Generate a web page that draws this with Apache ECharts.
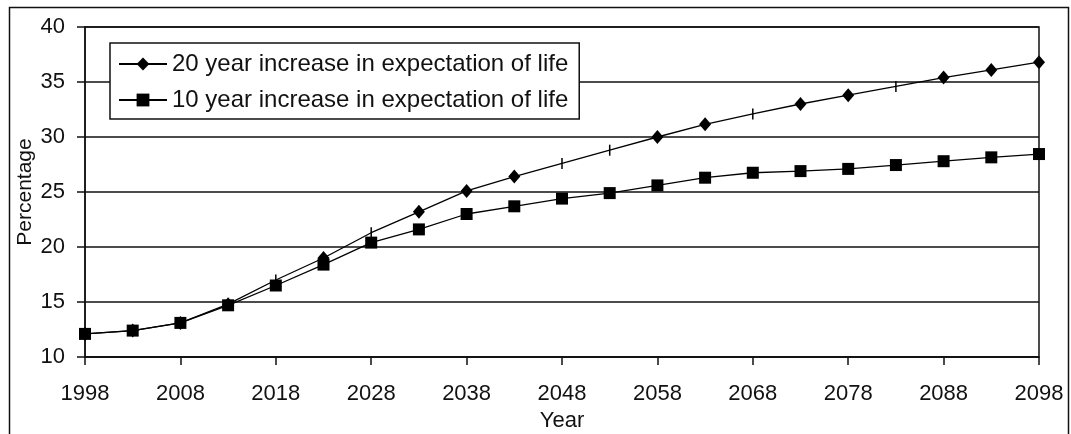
<!DOCTYPE html>
<html>
<head>
<meta charset="utf-8">
<script src="https://cdn.jsdelivr.net/npm/echarts@6/dist/echarts.min.js"></script>
<style>
html,body{margin:0;padding:0;background:#fff;}
#chart{width:1071px;height:434px;}
</style>
</head>
<body>
<div id="chart"></div>
<script>
var years = ['1998','2003','2008','2013','2018','2023','2028','2033','2038','2043','2048','2053','2058','2063','2068','2073','2078','2083','2088','2093','2098'];
var inc20 = [12.1, 12.4, 13.1, 14.8, 17.0, 19.0, 21.3, 23.2, 25.1, 26.4, 27.6, 28.8, 30.0, 31.15, 32.1, 33.0, 33.8, 34.6, 35.4, 36.1, 36.8];
var inc10 = [12.1, 12.4, 13.1, 14.7, 16.5, 18.4, 20.4, 21.6, 23.0, 23.7, 24.4, 24.9, 25.6, 26.3, 26.75, 26.9, 27.1, 27.45, 27.8, 28.15, 28.45];
var yTicks = [10, 15, 20, 25, 30, 35, 40];
var seriesNames = ['20 year increase in expectation of life', '10 year increase in expectation of life'];
var crossIdx = [4, 6, 10, 11, 14, 17];

var FONT = "'Liberation Sans', Arial, sans-serif";
var chart = echarts.init(document.getElementById('chart'), null, {renderer: 'canvas'});

var data20 = inc20.map(function (v, i) {
  if (crossIdx.indexOf(i) >= 0) {
    return {value: v, symbol: 'rect', symbolSize: [1.5, 11]};
  }
  return v;
});

chart.setOption({
  animation: false,
  backgroundColor: '#fff',
  textStyle: {fontFamily: FONT},
  graphic: [{
    type: 'rect',
    shape: {x: 9.5, y: 7.5, width: 1059, height: 500},
    style: {fill: 'none', stroke: '#111', lineWidth: 1.5},
    silent: true
  }],
  grid: {
    left: 85, right: 32, top: 27, bottom: 77,
    containLabel: false,
    outerBoundsMode: 'none',
    show: true, borderColor: '#111', borderWidth: 1.5, backgroundColor: 'transparent'
  },
  legend: {
    orient: 'vertical',
    left: 110, top: 43,
    padding: [9, 11, 7, 8],
    itemGap: 12,
    itemWidth: 48, itemHeight: 16,
    backgroundColor: '#fff',
    borderColor: '#111', borderWidth: 1.5,
    textStyle: {fontSize: 24, color: '#111', fontFamily: FONT},
    data: seriesNames,
    z: 10
  },
  xAxis: {
    type: 'category',
    data: years,
    boundaryGap: false,
    name: 'Year',
    nameLocation: 'middle',
    nameGap: 53,
    nameTextStyle: {fontSize: 22, color: '#111', fontFamily: FONT},
    axisLine: {show: true, lineStyle: {color: '#111', width: 1.5}},
    axisTick: {show: true, interval: 1, length: 8, lineStyle: {color: '#111', width: 1.5}},
    axisLabel: {interval: 1, fontSize: 22, color: '#111', margin: 26, fontFamily: FONT},
    splitLine: {show: false}
  },
  yAxis: {
    type: 'value',
    min: yTicks[0], max: yTicks[yTicks.length - 1], interval: 5,
    name: 'Percentage',
    nameLocation: 'middle',
    nameGap: 49,
    nameMoveOverlap: false,
    nameRotate: 90,
    nameTextStyle: {fontSize: 21, color: '#111', fontFamily: FONT},
    axisLine: {show: true, lineStyle: {color: '#111', width: 1.5}},
    axisTick: {show: true, length: 8, lineStyle: {color: '#111', width: 1.5}},
    axisLabel: {fontSize: 22, color: '#111', margin: 20, fontFamily: FONT},
    splitLine: {show: true, lineStyle: {color: '#111', width: 1.5}}
  },
  series: [{
    name: seriesNames[0],
    type: 'line',
    data: data20,
    symbol: 'diamond',
    symbolSize: [12, 14],
    showAllSymbol: true,
    lineStyle: {color: '#000', width: 1.3},
    itemStyle: {color: '#000'},
    clip: false,
    z: 3
  }, {
    name: seriesNames[1],
    type: 'line',
    data: inc10,
    symbol: 'rect',
    symbolSize: 12,
    showAllSymbol: true,
    lineStyle: {color: '#000', width: 1.3},
    itemStyle: {color: '#000'},
    clip: false,
    z: 4
  }]
});
</script>
</body>
</html>
